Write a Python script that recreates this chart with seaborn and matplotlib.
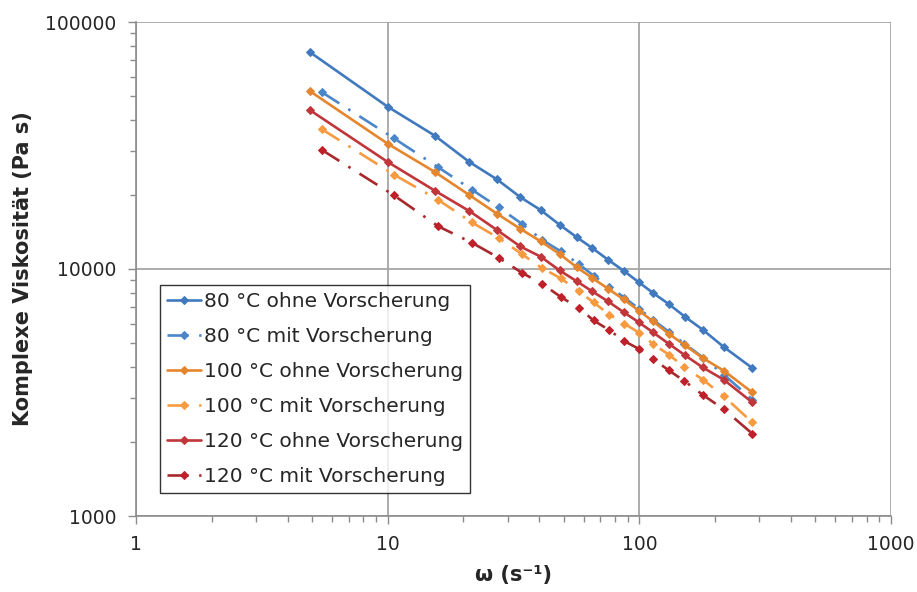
import matplotlib
matplotlib.use("Agg")
import matplotlib.pyplot as plt
import matplotlib.ticker as mticker
import seaborn as sns

sns.set_theme(style="white")
plt.rcParams['font.family'] = ['DejaVu Sans']

# angular frequency (1/s)
omega_ohne = [4.9, 10.0, 15.4, 21.1, 27.2, 33.6, 40.6, 48.2, 56.5, 65.0, 75.1,
              86.6, 99.7, 113.4, 130.8, 151.7, 178.6, 216.6, 281.0]
omega_mit = [5.46, 10.6, 15.9, 21.6, 27.6, 34.1, 41.0, 48.8, 57.4, 65.8, 76.0,
             87.3, 99.7, 113.0, 131.0, 151.0, 179.0, 217.0, 281.0]

# complex viscosity (Pa s)
v80_ohne = [75600, 45400, 34650, 27130, 23050, 19560, 17300, 15110, 13430, 12160,
            10900, 9840, 8826, 7995, 7217, 6410, 5679, 4832, 3973]
v80_mit = [52070, 33790, 25790, 20950, 17760, 15250, 13140, 11780, 10480, 9394,
           8480, 7650, 6900, 6240, 5570, 4990, 4380, 3730, 2960]
v100_ohne = [52550, 32160, 24710, 19930, 16740, 14560, 12930, 11500, 10150, 9196,
             8322, 7531, 6778, 6136, 5470, 4914, 4361, 3876, 3166]
v100_mit = [36880, 24090, 19030, 15440, 13350, 11500, 10090, 9162, 8117, 7326,
            6531, 6005, 5522, 4984, 4498, 4010, 3562, 3049, 2393]
v120_ohne = [44030, 27130, 20750, 17170, 14380, 12350, 11210, 9870, 8908, 8117,
             7394, 6684, 6078, 5537, 4984, 4477, 3995, 3562, 2884]
v120_mit = [30410, 19860, 14880, 12780, 11110, 9661, 8720, 7701, 6952, 6193,
            5652, 5100, 4745, 4334, 3886, 3519, 3090, 2701, 2155]

labels = ["80 °C ohne Vorscherung", "80 °C mit Vorscherung",
          "100 °C ohne Vorscherung", "100 °C mit Vorscherung",
          "120 °C ohne Vorscherung", "120 °C mit Vorscherung"]

DASHDOT = (0, (8, 4, 1, 4))
series = [
    (omega_ohne, v80_ohne, '#4179BE', '#4179BE', '-'),
    (omega_mit, v80_mit, '#4A86C8', '#4A86C8', DASHDOT),
    (omega_ohne, v100_ohne, '#E5862F', '#E5862F', '-'),
    (omega_mit, v100_mit, '#F79A40', '#F79A40', DASHDOT),
    (omega_ohne, v120_ohne, '#C0363A', '#C0363A', '-'),
    (omega_mit, v120_mit, '#A8282C', '#C0202A', DASHDOT),
]

fig = plt.figure(figsize=(9.17, 5.92), dpi=100)
ax = fig.add_axes([136/917, 1-516/592, 755/917, 494/592])

for (x, y, c, mc, ls), lab in zip(series, labels):
    sns.lineplot(x=x, y=y, ax=ax, color=c, linestyle=ls, linewidth=1.9,
                 marker='D', markersize=4.4, markeredgecolor=mc,
                 markerfacecolor=mc, label=lab, estimator=None, sort=False)

ax.set_xscale('log')
ax.set_yscale('log')
ax.set_xlim(1, 1000)
ax.set_ylim(1000, 100000)

ax.xaxis.set_major_locator(mticker.LogLocator(base=10))
ax.yaxis.set_major_locator(mticker.LogLocator(base=10))
ax.xaxis.set_major_formatter(mticker.FuncFormatter(lambda v, p: f"{v:.0f}"))
ax.yaxis.set_major_formatter(mticker.FuncFormatter(lambda v, p: f"{v:.0f}"))
ax.xaxis.set_minor_locator(mticker.LogLocator(base=10, subs=range(2, 10)))
ax.yaxis.set_minor_locator(mticker.LogLocator(base=10, subs=range(2, 10)))
ax.xaxis.set_minor_formatter(mticker.NullFormatter())
ax.yaxis.set_minor_formatter(mticker.NullFormatter())

ax.grid(True, which='major', color='#A6A6A6', linewidth=1.3)
ax.set_axisbelow(True)
for s in ['top', 'right']:
    ax.spines[s].set_visible(False)
for s in ['left', 'bottom']:
    ax.spines[s].set_color('#8C8C8C')
    ax.spines[s].set_linewidth(1.2)

ax.tick_params(which='both', direction='out', color='#8C8C8C', width=1.0)
ax.tick_params(which='major', length=6, labelsize=13.5, pad=8, bottom=True, left=True)
ax.tick_params(which='minor', length=4, bottom=True, left=True)

ax.set_xlabel("ω (s⁻¹)", fontsize=15, fontweight='bold')
ax.set_ylabel("Komplexe Viskosität (Pa s)", fontsize=15, fontweight='bold')
ax.xaxis.set_label_coords(0.5, -0.100)
ax.yaxis.set_label_coords(-0.137, 0.5)

leg = ax.legend(loc='lower left', bbox_to_anchor=(0.032, 0.046), fontsize=14.5,
                frameon=True, fancybox=False, edgecolor='black', handlelength=1.7,
                handletextpad=0.12, labelspacing=0.8, borderpad=0.35,
                borderaxespad=0, markerscale=0.9)
leg.get_frame().set_linewidth(1.0)

fig.savefig("out.png", dpi=100)
